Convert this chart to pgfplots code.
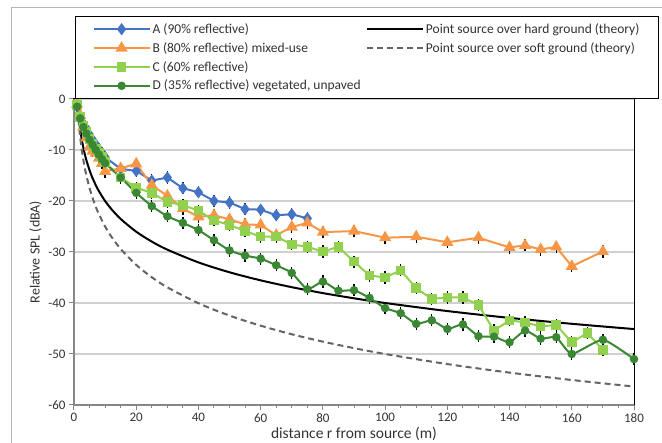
\documentclass[border=0pt]{standalone}
\usepackage{fontspec}
\setmainfont{Carlito}
\usepackage{pgfplots}
\pgfplotsset{compat=1.18}

\definecolor{cA}{RGB}{68,114,196}
\definecolor{cB}{RGB}{247,150,70}
\definecolor{cC}{RGB}{146,208,80}
\definecolor{cD}{RGB}{58,135,52}
\definecolor{cGrid}{RGB}{208,208,208}
\definecolor{cAxis}{RGB}{134,134,134}
\definecolor{cSoft}{RGB}{100,100,100}

\pgfplotsset{
  errbar/.style={error bars/.cd, y dir=both, y fixed=1.2, error mark=none,
    error bar style={black, line width=1.3pt, solid}},
  sA/.style={cA, line width=2pt, mark=diamond*, mark size=4.5pt, mark options={solid}},
  sB/.style={cB, line width=2pt, mark=triangle*, mark size=5pt, mark options={solid}},
  sC/.style={cC, line width=2pt, mark=square*, mark size=3.8pt, mark options={solid}},
  sD/.style={cD, line width=2pt, mark=*, mark size=3.2pt, mark options={solid}},
  sHard/.style={black, line width=2pt, no markers},
  sSoft/.style={cSoft, line width=2pt, dash pattern=on 6pt off 4pt, no markers},
}

\begin{document}
\begin{tikzpicture}[x=1pt,y=1pt]
\useasboundingbox (-74,-38) rectangle (588,405);
\draw[cAxis!60, line width=1pt] (-62,-38) -- (-62,397) -- (588,397);
\begin{axis}[
  at={(0,0)}, anchor=south west, scale only axis,
  width=560pt, height=306pt,
  xmin=0, xmax=180, ymin=-60, ymax=0,
  xtick={0,20,...,180}, xticklabels={0,20,40,60,80,100,120,140,160,180},
  minor x tick num=3,
  ytick={-60,-50,...,0}, yticklabels={-60,-50,-40,-30,-20,-10,0},
  ymajorgrids, grid style={cGrid, line width=1.5pt},
  tick align=outside, tick pos=left,
  major tick length=5pt, minor tick length=3pt,
  tick style={cAxis, line width=1pt},
  axis line style={black, line width=1pt},
  ticklabel style={font=\fontsize{13}{15}\selectfont, text=black!80},
  xlabel={distance r from source (m)},
  ylabel={Relative SPL (dBA)},
  xlabel style={font=\fontsize{15.5}{17}\selectfont, text=black!80, yshift=2pt},
  ylabel style={font=\fontsize{14}{16}\selectfont, text=black!80},
  clip=false,
  legend columns=2,
  legend cell align=left,
  legend image code/.code={\draw[mark repeat=2,mark phase=2] plot coordinates {(0pt,0pt)(28pt,0pt)(56pt,0pt)};},
  legend style={at={(0.002,1)}, anchor=south west, draw=black, line width=1pt,
    font=\fontsize{13.5}{16}\selectfont, text=black!80, row sep=3.5pt,
    inner xsep=17pt, inner ysep=5pt,
    /tikz/every even column/.append style={column sep=56pt}},
]
\draw[cAxis, line width=1.5pt] (rel axis cs:0,0) -- (rel axis cs:0,1);
\draw[cAxis, line width=1.5pt] (rel axis cs:0,0) -- (rel axis cs:1,0);

% theory
\addplot[sHard, smooth, forget plot] coordinates {
(1,0)(1.25,-1.94)(1.5,-3.52)(1.75,-4.86)(2,-6.02)(2.5,-7.96)(3,-9.54)(3.5,-10.88)(4,-12.04)
(5,-13.98)(6,-15.56)(7,-16.90)(8,-18.06)(10,-20.00)(12,-21.58)(15,-23.52)(20,-26.02)(25,-27.96)
(30,-29.54)(40,-32.04)(50,-33.98)(60,-35.56)(70,-36.90)(80,-38.06)(90,-39.08)(100,-40.00)
(120,-41.58)(140,-42.92)(160,-44.08)(180,-45.11)};
\addplot[sSoft, smooth, forget plot] coordinates {
(1,0)(1.25,-2.42)(1.5,-4.40)(1.75,-6.08)(2,-7.53)(2.5,-9.95)(3,-11.93)(3.5,-13.60)(4,-15.05)
(5,-17.47)(6,-19.45)(7,-21.13)(8,-22.58)(10,-25.00)(12,-26.98)(15,-29.40)(20,-32.53)(25,-34.95)
(30,-36.93)(40,-40.05)(50,-42.47)(60,-44.45)(70,-46.13)(80,-47.58)(90,-48.85)(100,-50.00)
(120,-51.98)(140,-53.65)(160,-55.10)(180,-56.38)};

% measured
\addplot[sA, forget plot, errbar] coordinates {
(1,-1.5)(2,-3.4)(3,-4.8)(4,-5.8)(5,-7.0)(6,-8.0)(7,-8.9)(8,-9.8)(9,-10.6)(10,-11.4)
(15,-13.7)(20,-14.1)(25,-16.0)(30,-15.4)(35,-17.5)(40,-18.3)(45,-20.0)(50,-20.3)
(55,-21.6)(60,-21.7)(65,-22.8)(70,-22.6)(75,-23.4)};
\addplot[sB, forget plot, errbar] coordinates {
(1,-1.0)(2,-3.2)(3,-5.5)(4,-7.6)(5,-9.4)(6,-10.2)(7,-10.6)(8,-11.6)(9,-12.6)(10,-14.2)
(15,-13.6)(20,-12.7)(25,-16.9)(30,-19.0)(35,-21.5)(40,-23.1)(45,-22.8)(50,-23.6)
(55,-24.6)(60,-24.7)(65,-26.7)(70,-25.1)(75,-24.3)(80,-26.1)(90,-25.9)(100,-27.2)
(110,-27.0)(120,-28.1)(130,-27.2)(140,-29.1)(145,-28.7)(150,-29.5)(155,-29.0)
(160,-32.8)(170,-29.9)};
\addplot[sC, forget plot, errbar] coordinates {
(1,-1.2)(2,-3.5)(3,-5.2)(4,-6.5)(5,-7.8)(6,-8.8)(7,-9.7)(8,-10.5)(9,-11.4)(10,-12.3)
(15,-15.4)(20,-17.4)(25,-18.4)(30,-20.2)(35,-20.8)(40,-21.9)(45,-23.8)(50,-24.7)
(55,-25.9)(60,-27.0)(65,-27.0)(70,-28.5)(75,-29.0)(80,-29.9)(85,-29.0)(90,-31.9)
(95,-34.6)(100,-35.0)(105,-33.6)(110,-37.1)(115,-39.2)(120,-38.9)(125,-38.9)
(130,-40.4)(135,-45.4)(140,-43.4)(145,-43.8)(150,-44.6)(155,-44.3)(160,-47.7)
(165,-45.9)(170,-49.2)};
\addplot[sD, smooth, tension=0.3, forget plot, errbar] coordinates {
(1,-1.5)(2,-3.8)(3,-5.5)(4,-6.8)(5,-8.0)(6,-9.0)(7,-10.0)(8,-10.9)(9,-11.8)(10,-12.6)
(15,-15.4)(20,-18.4)(25,-21.0)(30,-23.0)(35,-24.3)(40,-25.7)(45,-27.7)(50,-29.7)
(55,-30.7)(60,-31.3)(65,-32.6)(70,-34.1)(75,-37.3)(80,-35.8)(85,-37.6)(90,-37.5)
(95,-39.0)(100,-41.0)(105,-42.0)(110,-44.1)(115,-43.4)(120,-45.1)(125,-44.2)
(130,-46.5)(135,-46.6)(140,-47.7)(145,-45.4)(150,-47.0)(155,-46.7)(160,-50.0)
(170,-47.2)(180,-51.0)};

% legend, in the reference's order
\addlegendimage{sA}\addlegendentry{A (90\% reflective)}
\addlegendimage{sHard}\addlegendentry{Point source over hard ground (theory)}
\addlegendimage{sB}\addlegendentry{B (80\% reflective) mixed-use}
\addlegendimage{sSoft}\addlegendentry{Point source over soft ground (theory)}
\addlegendimage{sC}\addlegendentry{C (60\% reflective)}
\addlegendimage{empty legend}\addlegendentry{}
\addlegendimage{sD}\addlegendentry{\makebox[150pt][l]{D (35\% reflective) vegetated, unpaved}}
\end{axis}
\end{tikzpicture}
\end{document}
